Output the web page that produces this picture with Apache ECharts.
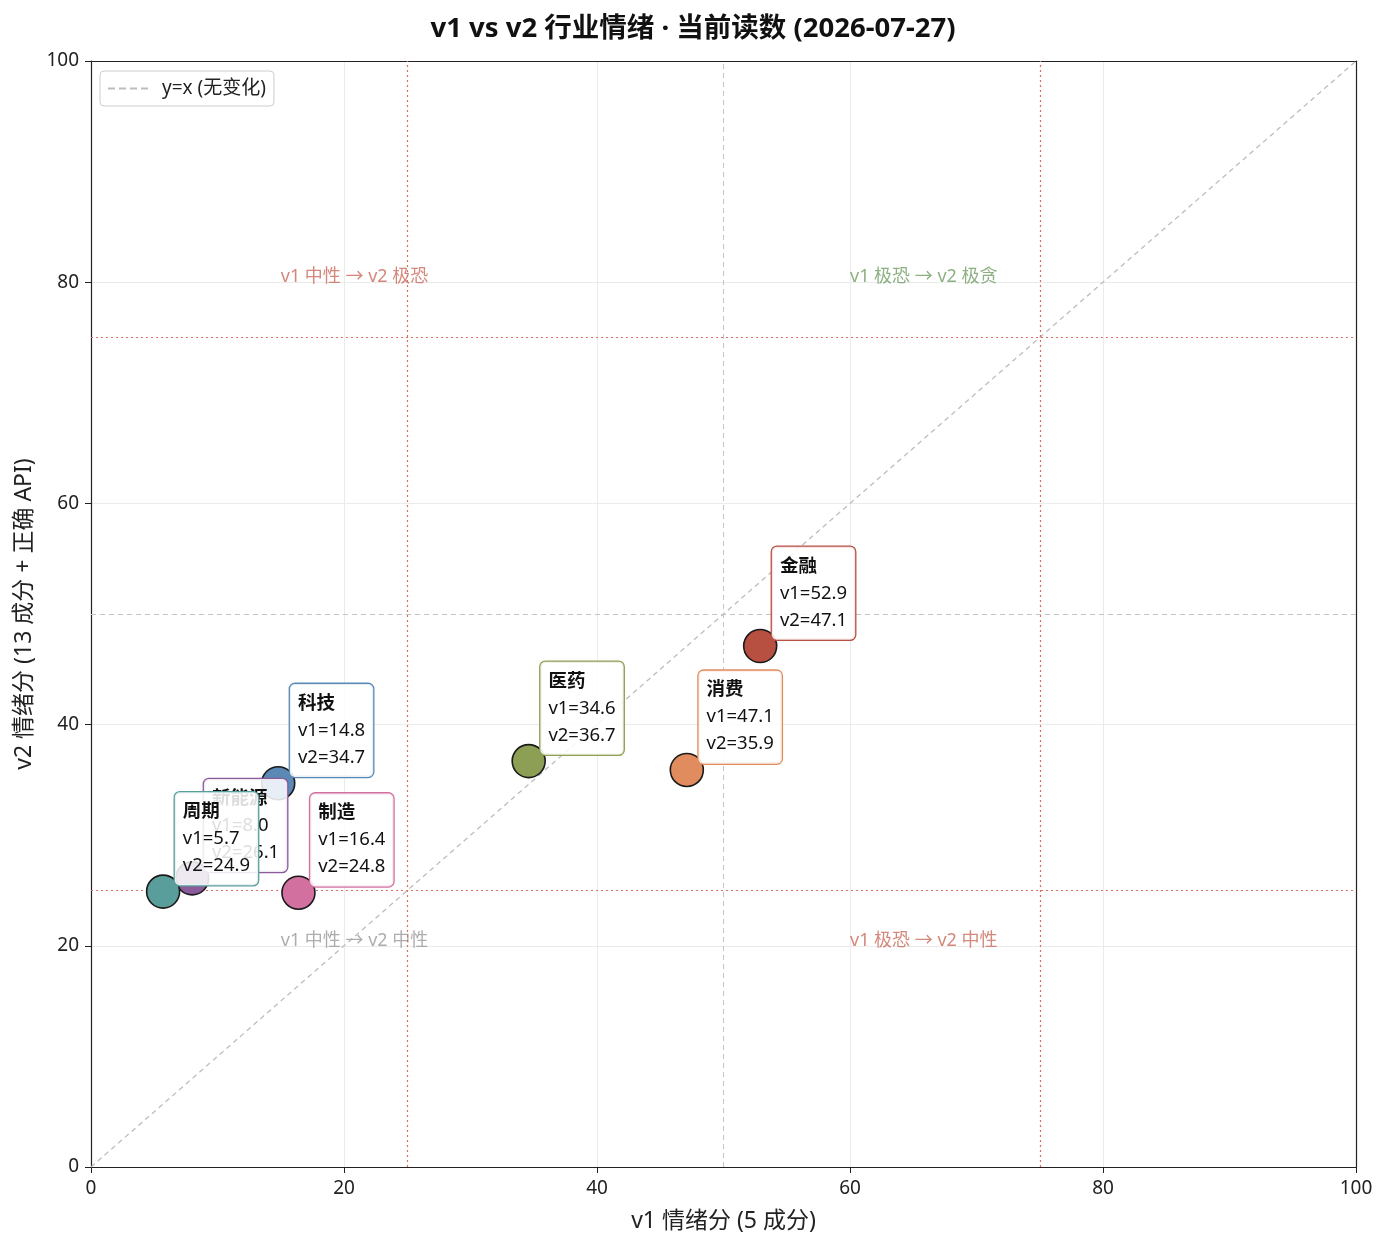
<!DOCTYPE html>
<html>
<head>
<meta charset="utf-8">
<script src="https://cdn.jsdelivr.net/npm/echarts@6/dist/echarts.min.js"></script>
<style>
html, body { margin: 0; padding: 0; background: #fff; }
#main { width: 1386px; height: 1246px; }
</style>
</head>
<body>
<div id="main"></div>
<script>
// 行业读数
const names = ['科技', '新能源', '周期', '制造', '医药', '消费', '金融'];
const v1 = [14.8, 8.0, 5.7, 16.4, 34.6, 47.1, 52.9];
const v2 = [34.7, 26.1, 24.9, 24.8, 36.7, 35.9, 47.1];
const colors = ['#5b89b5', '#8a5a9a', '#5a9e9b', '#d2719f', '#8d9e55', '#e08c5e', '#b85042'];

// 象限注释
const zoneText = ['v1 中性 → v2 极恐', 'v1 极恐 → v2 极贪', 'v1 中性 → v2 中性', 'v1 极恐 → v2 中性'];
const zoneX = [15, 60, 15, 60];
const zoneY = [80, 80, 20, 20];
const zoneColor = ['#c86a5a', '#6f9c62', '#999999', '#c86a5a'];

const dotted = [25, 75];
const FONT = '"Noto Sans", "Noto Sans CJK SC", sans-serif';

const chart = echarts.init(document.getElementById('main'));

const pts = names.map((n, i) => ({
    value: [v1[i], v2[i]],
    name: n,
    itemStyle: { color: colors[i] },
    label: { borderColor: colors[i] }
}));

const marks = [];
dotted.forEach(d => {
    marks.push({ xAxis: d, lineStyle: { type: [2, 3], color: '#d9705f', width: 1.2 } });
    marks.push({ yAxis: d, lineStyle: { type: [2, 3], color: '#d9705f', width: 1.2 } });
});
marks.push({ xAxis: 50, lineStyle: { type: [5, 4], color: '#c4c4c4', width: 1 } });
marks.push({ yAxis: 50, lineStyle: { type: [5, 4], color: '#c4c4c4', width: 1 } });

const axisCommon = {
    min: 0, max: 100, interval: 20,
    axisLine: { onZero: false, lineStyle: { color: '#222', width: 1.2 } },
    axisTick: { show: true, length: 6, lineStyle: { color: '#222' } },
    axisLabel: { color: '#222', fontSize: 19, fontFamily: FONT, margin: 12 },
    splitLine: { show: true, lineStyle: { color: '#ebebeb', width: 1 } },
    nameLocation: 'middle',
    nameTextStyle: { color: '#222', fontSize: 23, fontFamily: FONT }
};

// 上、右边框
const frameAxis = {
    type: 'value', min: 0, max: 100, interval: 20,
    axisLine: { show: true, onZero: false, lineStyle: { color: '#222', width: 1.2 } },
    axisTick: { show: false }, axisLabel: { show: false }, splitLine: { show: false }
};

chart.setOption({
    backgroundColor: '#fff',
    animation: false,
    title: {
        text: 'v1 vs v2 行业情绪 · 当前读数 (2026-07-27)',
        left: 'center', top: 10,
        textStyle: { fontSize: 27.5, fontWeight: 'bold', color: '#111', fontFamily: FONT }
    },
    legend: {
        data: ['y=x (无变化)'],
        left: 100, top: 71,
        orient: 'vertical',
        padding: [8, 8, 8, 8],
        icon: 'path://M0 0h7v2h-7z M11 0h7v2h-7z M22 0h7v2h-7z M33 0h7v2h-7z',
        itemWidth: 40, itemHeight: 2,
        itemGap: 10,
        borderColor: '#cccccc', borderWidth: 1, borderRadius: 4,
        textStyle: { fontSize: 19, color: '#222', fontFamily: FONT, padding: [0, 0, 0, 9] }
    },
    grid: { left: 91, right: 30, top: 61, bottom: 79 },
    xAxis: [
        Object.assign({}, axisCommon, { type: 'value', name: 'v1 情绪分 (5 成分)', nameGap: 43 }),
        Object.assign({}, frameAxis, { position: 'top' })
    ],
    yAxis: [
        Object.assign({}, axisCommon, { type: 'value', name: 'v2 情绪分 (13 成分 + 正确 API)', nameGap: 51 }),
        Object.assign({}, frameAxis, { position: 'right' })
    ],
    series: [
        {
            name: 'y=x (无变化)',
            type: 'line',
            data: [[0, 0], [100, 100]],
            symbol: 'none',
            color: '#bdbdbd',
            lineStyle: { type: [5, 4], color: '#bdbdbd', width: 1.3 },
            z: 1,
            markLine: {
                silent: true,
                symbol: 'none',
                label: { show: false },
                data: marks
            }
        },
        {
            name: 'zones',
            type: 'scatter',
            symbolSize: 0,
            z: 2,
            data: zoneText.map((t, i) => ({
                value: [zoneX[i], zoneY[i]],
                label: { color: zoneColor[i] }
            })),
            label: {
                show: true,
                position: [0, 4],
                align: 'left',
                verticalAlign: 'bottom',
                fontSize: 18,
                fontFamily: FONT,
                formatter: p => zoneText[p.dataIndex]
            }
        },
        {
            name: 'industries',
            type: 'scatter',
            symbolSize: 33,
            z: 5,
            itemStyle: { borderColor: '#1a1a1a', borderWidth: 1.6, opacity: 1 },
            data: pts,
            label: {
                show: true,
                position: [29, 11],
                align: 'left',
                verticalAlign: 'bottom',
                backgroundColor: 'rgba(255,255,255,0.86)',
                borderWidth: 1.3,
                borderRadius: 5,
                padding: [6, 8, 6, 8],
                lineHeight: 27,
                fontSize: 18.5,
                color: '#111',
                fontFamily: FONT,
                formatter: p => '{b|' + p.name + '}\nv1=' + p.value[0].toFixed(1) + '\nv2=' + p.value[1].toFixed(1),
                rich: {
                    b: { fontWeight: 'bold', fontSize: 18.5, lineHeight: 27, fontFamily: FONT, color: '#111' }
                }
            }
        }
    ]
});
</script>
</body>
</html>
